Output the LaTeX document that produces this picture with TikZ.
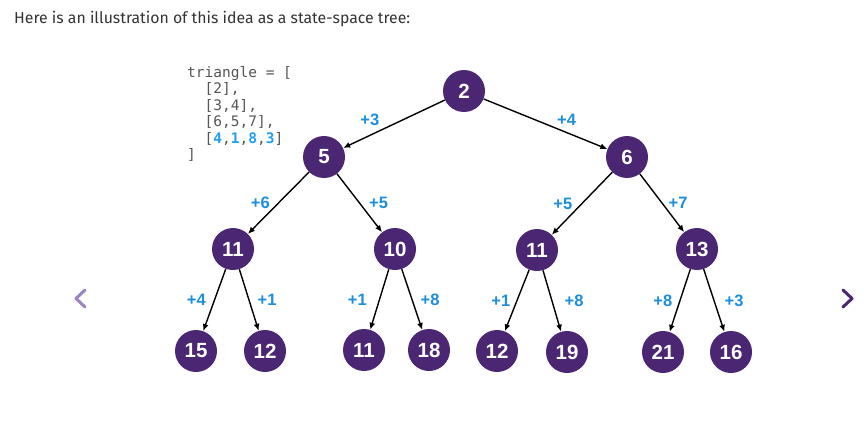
\documentclass[tikz,border=0pt]{standalone}
\usepackage{fontspec}
\setmainfont{Fira Sans}
\setsansfont{Liberation Sans}
\setmonofont{DejaVu Sans Mono}
\usetikzlibrary{positioning}
\usetikzlibrary{arrows.meta}

\definecolor{treepurple}{HTML}{4A2673}
\definecolor{edgeblue}{HTML}{1B8EDC}
\definecolor{codegray}{HTML}{555555}
\definecolor{codeblue}{HTML}{1E9FF2}
\definecolor{chevlight}{HTML}{9C84C4}
\definecolor{textgray}{HTML}{333333}

\begin{document}
\begin{tikzpicture}[
                          x=1pt, y=-1pt,
                          roundnode/.style={circle, fill=treepurple, text=white, inner sep=0pt, minimum size=42pt,
                                            font=\fontsize{20.5}{20.5}\selectfont\sffamily\bfseries},
                          edgelabel/.style={text=edgeblue, inner sep=0pt, font=\fontsize{16.5}{16.5}\selectfont\sffamily\bfseries},
                          treeedge/.style={-{Latex[length=7pt,width=6pt]}, line width=1.4pt},
                          chevron/.style={line width=3pt, line cap=round, line join=round},
                      ]
                      \useasboundingbox (0,0) rectangle (864,420);

                      %Text
                      \node[anchor=base west, text=textgray, inner sep=0pt, font=\fontsize{15.8}{15.8}\selectfont]
                            (heading) at (14,24) {Here is an illustration of this idea as a state-space tree:};
                      \node[anchor=north west, align=left, text=codegray, inner sep=0pt,
                            font=\fontsize{14.5}{16.5}\selectfont\ttfamily]
                            (code) at (187,66) {triangle = [\\
                                                \ \ [2],\\
                                                \ \ [3,4],\\
                                                \ \ [6,5,7],\\
                                                \ \ [\textcolor{codeblue}{\textbf{4}},\textcolor{codeblue}{\textbf{1}},\textcolor{codeblue}{\textbf{8}},\textcolor{codeblue}{\textbf{3}}]\\
                                                ]};

                      %Nodes
                      \begin{scope}[on grid]
                      \node[roundnode]    (n2)     at (464,91)                          {2};
                      \node[roundnode]    (n5)     [below left=66pt and 140pt of n2]    {5};
                      \node[roundnode]    (n6)     [below right=66pt and 163pt of n2]   {6};
                      \node[roundnode]    (n11a)   [below left=92pt and 91pt of n5]     {11};
                      \node[roundnode]    (n10)    [below right=92pt and 71pt of n5]    {10};
                      \node[roundnode]    (n11b)   [below left=93pt and 90pt of n6]     {11};
                      \node[roundnode]    (n13)    [below right=92pt and 70pt of n6]    {13};
                      \node[roundnode]    (n15)    [below left=102pt and 37pt of n11a]  {15};
                      \node[roundnode]    (n12a)   [below right=102pt and 32pt of n11a] {12};
                      \node[roundnode]    (n11c)   [below left=101pt and 31pt of n10]   {11};
                      \node[roundnode]    (n18)    [below right=101pt and 34pt of n10]  {18};
                      \node[roundnode]    (n12b)   [below left=101pt and 40pt of n11b]  {12};
                      \node[roundnode]    (n19)    [below right=102pt and 30pt of n11b] {19};
                      \node[roundnode]    (n21)    [below left=103pt and 34pt of n13]   {21};
                      \node[roundnode]    (n16)    [below right=103pt and 34pt of n13]  {16};
                      \end{scope}

                      %Lines
                      \draw[treeedge] (n2) -- node[edgelabel, left=14pt, yshift=4pt]  {+3} (n5);
                      \draw[treeedge] (n2) -- node[edgelabel, right=11pt, yshift=4pt] {+4} (n6);
                      \draw[treeedge] (n5) -- node[edgelabel, left=8pt]   {+6} (n11a);
                      \draw[treeedge] (n5) -- node[edgelabel, right=9pt]  {+5} (n10);
                      \draw[treeedge] (n6) -- node[edgelabel, left=9pt]   {+5} (n11b);
                      \draw[treeedge] (n6) -- node[edgelabel, right=6pt]  {+7} (n13);
                      \draw[treeedge] (n11a) -- node[edgelabel, left=8pt]  {+4} (n15);
                      \draw[treeedge] (n11a) -- node[edgelabel, right=8pt] {+1} (n12a);
                      \draw[treeedge] (n10) -- node[edgelabel, left=12pt]  {+1} (n11c);
                      \draw[treeedge] (n10) -- node[edgelabel, right=8pt]  {+8} (n18);
                      \draw[treeedge] (n11b) -- node[edgelabel, left=6pt]  {+1} (n12b);
                      \draw[treeedge] (n11b) -- node[edgelabel, right=12pt] {+8} (n19);
                      \draw[treeedge] (n13) -- node[edgelabel, left=7pt]   {+8} (n21);
                      \draw[treeedge] (n13) -- node[edgelabel, right=10pt] {+3} (n16);

                      %Chevrons
                      \draw[chevron, chevlight]  (85,290) -- (76,298.5) -- (85,307);
                      \draw[chevron, treepurple] (843,290) -- (852,298.5) -- (843,307);
                  \end{tikzpicture}
\end{document}
